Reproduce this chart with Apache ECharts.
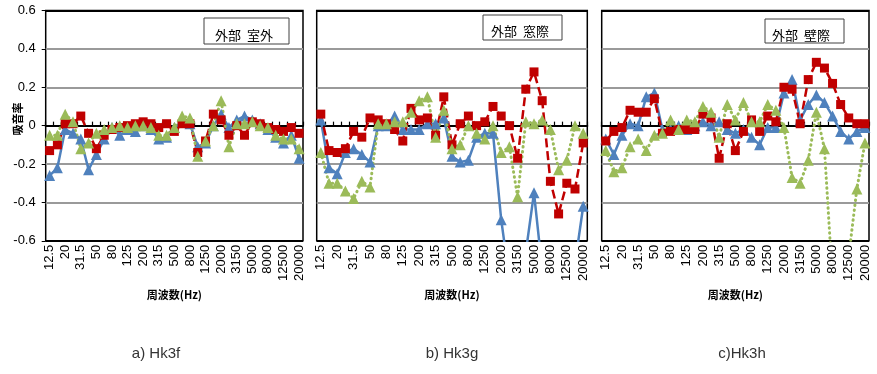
<!DOCTYPE html>
<html>
<head>
<meta charset="utf-8">
<script src="https://cdn.jsdelivr.net/npm/echarts@6/dist/echarts.min.js"></script>
<style>
  html, body { margin: 0; padding: 0; background: #fff; }
  #chart { width: 877px; height: 374px; }
</style>
</head>
<body>
<div id="chart"></div>
<script>
// 1/3オクターブ中心周波数
const freqs = ['12.5', '16', '20', '25', '31.5', '40', '50', '63', '80', '100', '125', '160', '200', '250',
  '315', '400', '500', '630', '800', '1000', '1250', '1600', '2000', '2500', '3150', '4000', '5000',
  '6300', '8000', '10000', '12500', '16000', '20000'];

// a) Hk3f
const hk3fBlue = [-0.26, -0.22, -0.02, -0.04, -0.07, -0.23, -0.15, -0.07, -0.01, -0.05, -0.02, -0.03, 0, -0.02,
  -0.07, -0.06, -0.01, 0.02, 0.01, -0.11, -0.09, 0, 0.06, -0.01, 0.03, 0.05, 0.03, 0.01, -0.02, -0.06, -0.09, -0.05, -0.17];
const hk3fRed = [-0.13, -0.10, 0.01, 0.01, 0.05, -0.04, -0.12, -0.05, -0.02, -0.01, 0, 0.01, 0.02, 0.01,
  -0.01, 0.01, -0.03, 0.01, 0.01, -0.14, -0.08, 0.06, 0.03, -0.05, 0, -0.05, 0.02, 0.01, -0.01, -0.02, -0.03, -0.01, -0.04];
const hk3fGreen = [-0.05, -0.05, 0.06, 0.02, -0.12, -0.09, -0.04, -0.02, -0.01, 0, -0.01, 0, 0, -0.01,
  -0.05, -0.05, -0.01, 0.05, 0.04, -0.16, -0.08, 0, 0.13, -0.11, 0.01, 0.01, 0.02, 0, -0.01, -0.05, -0.07, -0.07, -0.12];

// b) Hk3g
const hk3gBlue = [0.03, -0.22, -0.25, -0.14, -0.12, -0.15, -0.19, 0, 0, 0.05, -0.02, -0.02, -0.02, 0.01,
  0.01, 0.04, -0.16, -0.19, -0.18, -0.06, -0.04, -0.04, -0.49, -0.8, -0.95, -0.66, -0.35, -0.75, -0.95, -0.95, -0.95, -0.72, -0.42];
const hk3gRed = [0.06, -0.13, -0.14, -0.12, -0.03, -0.06, 0.04, 0.03, 0.01, -0.02, -0.08, 0.09, 0.03, 0.04,
  -0.05, 0.15, -0.10, 0.01, 0.05, 0, 0.02, 0.10, 0.05, 0, -0.17, 0.19, 0.28, 0.13, -0.29, -0.46, -0.30, -0.33, -0.09];
const hk3gGreen = [-0.14, -0.30, -0.30, -0.34, -0.38, -0.29, -0.32, 0.01, 0.01, 0.02, 0.02, 0.07, 0.13, 0.15,
  -0.06, 0.08, -0.12, -0.10, 0, -0.04, -0.07, 0, -0.14, -0.11, -0.37, 0.02, 0.01, 0.03, -0.02, -0.23, -0.18, 0, -0.04];

// c) Hk3h
const hk3hBlue = [-0.07, -0.15, -0.05, 0.01, 0, 0.15, 0.17, -0.02, -0.02, 0, -0.02, 0, 0.02, 0,
  0.02, -0.02, -0.04, -0.02, -0.06, -0.10, -0.01, -0.01, 0.17, 0.24, 0.03, 0.11, 0.16, 0.12, 0.05, -0.03, -0.07, -0.03, -0.01];
const hk3hRed = [-0.08, -0.03, -0.01, 0.08, 0.07, 0.07, 0.14, -0.04, -0.03, -0.02, -0.02, -0.02, 0.06, 0.04,
  -0.17, 0.01, -0.13, -0.03, 0.03, -0.03, 0.05, 0.02, 0.20, 0.19, 0.01, 0.24, 0.33, 0.30, 0.22, 0.11, 0.04, 0.01, 0.01];
const hk3hGreen = [-0.13, -0.24, -0.22, -0.11, -0.07, -0.13, -0.05, -0.04, 0.03, -0.02, 0.03, 0.02, 0.10, 0.07,
  -0.06, 0.11, 0.03, 0.12, 0.02, 0.02, 0.11, 0.08, -0.01, -0.27, -0.30, -0.18, 0.07, -0.12, -0.81, -0.95, -0.68, -0.33, -0.09];

const boxLabels = ['外部  室外', '外部  窓際', '外部  壁際'];
const subTitles = ['a) Hk3f', 'b) Hk3g', 'c)Hk3h'];
const yTitle = '吸音率';
const xTitle = '周波数(Hz)';

const BLUE = '#4F81BD';
const RED = '#C00000';
const GREEN = '#9BBB59';
const NUM_FONT = '"Liberation Sans", Arial, sans-serif';
const JP_FONT = '"Noto Sans CJK JP", sans-serif';

const PLOT_TOP = 10.5;
const PLOT_H = 230.3;

const panels = [
  { left: 45.7, width: 257.3, blue: hk3fBlue, red: hk3fRed, green: hk3fGreen,
    box: [204, 18, 85, 26], text: [244, 35.5], sub: 156 },
  { left: 316.7, width: 270.6, blue: hk3gBlue, red: hk3gRed, green: hk3gGreen,
    box: [483, 15, 79, 25], text: [520, 31], sub: 452 },
  { left: 601.7, width: 267.3, blue: hk3hBlue, red: hk3hRed, green: hk3hGreen,
    box: [765, 19, 79, 24], text: [801, 35], sub: 742 },
];

const grid = [];
const xAxis = [];
const yAxis = [];
const series = [];
const graphic = [];

panels.forEach((p, k) => {
  grid.push({
    left: p.left, top: PLOT_TOP, width: p.width, height: PLOT_H,
    show: true, borderColor: '#000', borderWidth: 1.5, backgroundColor: 'transparent',
  });

  // ラベル用の軸（下端）
  xAxis.push({
    type: 'category', gridIndex: k, data: freqs, position: 'bottom', boundaryGap: true,
    axisLine: { show: false, onZero: false },
    axisTick: { show: false },
    axisLabel: { interval: 1, rotate: 90, margin: 4, fontSize: 13, color: '#000', fontFamily: NUM_FONT },
    splitLine: { show: false },
    name: xTitle, nameLocation: 'middle', nameGap: 40,
    nameTextStyle: { fontSize: 11, fontWeight: 'bold', color: '#000', fontFamily: JP_FONT },
  });
  // 0 の位置の黒線と目盛
  xAxis.push({
    type: 'category', gridIndex: k, data: freqs, position: 'bottom', boundaryGap: true,
    axisLine: { show: true, onZero: true, onZeroAxisIndex: k, lineStyle: { color: '#000', width: 2 } },
    axisTick: { show: true, inside: true, length: 4, interval: 0, lineStyle: { color: '#000', width: 1.2 } },
    axisLabel: { show: false },
    splitLine: { show: false },
  });

  yAxis.push({
    type: 'value', gridIndex: k, min: -0.6, max: 0.6, interval: 0.2,
    axisLine: { show: false },
    axisTick: { show: k === 0, length: 4, lineStyle: { color: '#000' } },
    axisLabel: { show: k === 0, margin: 10, fontSize: 13, color: '#000', fontFamily: NUM_FONT },
    splitLine: {
      show: true,
      lineStyle: { color: ['#000', '#9a9a9a', '#9a9a9a', '#000', '#9a9a9a', '#9a9a9a', '#000'], width: 2 },
    },
  });

  const base = { type: 'line', xAxisIndex: 2 * k, yAxisIndex: k, showAllSymbol: true, animation: false };
  series.push({
    ...base, data: p.blue, symbol: 'triangle', symbolSize: 11,
    lineStyle: { color: BLUE, width: 2.5 }, itemStyle: { color: BLUE },
  });
  series.push({
    ...base, data: p.red, symbol: 'rect', symbolSize: 9,
    lineStyle: { color: RED, width: 2.5, type: [9, 4] }, itemStyle: { color: RED },
  });
  series.push({
    ...base, data: p.green, symbol: 'triangle', symbolSize: 11,
    lineStyle: { color: GREEN, width: 3, type: [0.5, 4.5], cap: 'round' }, itemStyle: { color: GREEN },
  });

  const [bx, by, bw, bh] = p.box;
  graphic.push({
    type: 'rect', z: 10,
    shape: { x: bx, y: by, width: bw, height: bh },
    style: { fill: '#fff', stroke: '#404040', lineWidth: 1 },
  });
  graphic.push({
    type: 'text', z: 11, x: p.text[0], y: p.text[1],
    style: { text: boxLabels[k], font: '13px ' + JP_FONT, fill: '#000', align: 'center', verticalAlign: 'middle' },
  });
  graphic.push({
    type: 'text', x: p.sub, y: 354,
    style: { text: subTitles[k], font: '15px ' + NUM_FONT, fill: '#333', align: 'center', verticalAlign: 'middle' },
  });
});

graphic.push({
  type: 'text', x: 18, y: 119, rotation: Math.PI / 2,
  style: { text: yTitle, font: 'bold 11px ' + JP_FONT, fill: '#000', align: 'center', verticalAlign: 'middle' },
});

const chart = echarts.init(document.getElementById('chart'), null, { renderer: 'canvas' });
chart.setOption({
  animation: false,
  backgroundColor: '#fff',
  grid, xAxis, yAxis, series, graphic,
});
</script>
</body>
</html>
